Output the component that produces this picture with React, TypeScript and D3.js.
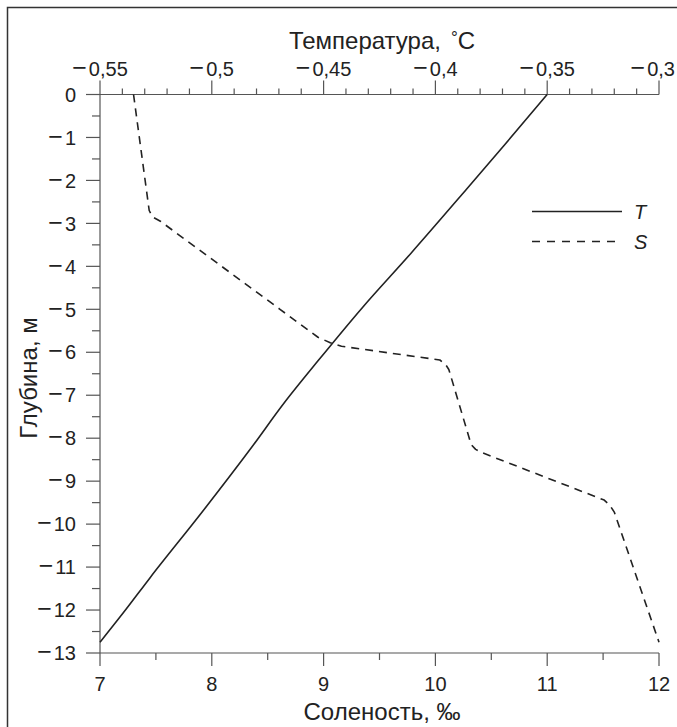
import React from "react";
import * as d3 from "d3";

// Temperature profile: depth (m), temperature (°C)
const tDepth = [0, -1.2, -2.2, -3.7, -4.95, -6.2, -7.17, -8.2, -9.73, -11.24, -12.06, -12.75];
const tValue = [-0.35, -0.3695, -0.386, -0.411, -0.4325, -0.4525, -0.4675, -0.482, -0.5045, -0.5275, -0.5395, -0.55];

// Salinity profile: depth (m), salinity (‰)
const sDepth = [0, -2.7, -2.85, -2.95, -5.0, -5.65, -5.78, -5.86, -6.18, -6.28, -6.4, -8.15, -8.26, -8.34, -9.44, -9.56, -9.72, -12.75];
const sValue = [7.3, 7.44, 7.47, 7.54, 8.61, 8.95, 9.06, 9.16, 10.04, 10.09, 10.12, 10.32, 10.36, 10.42, 11.51, 11.56, 11.6, 12.0];

const depthTicks = [0, -1, -2, -3, -4, -5, -6, -7, -8, -9, -10, -11, -12, -13];
const depthTickLabels = ["0", "−1", "−2", "−3", "−4", "−5", "−6", "−7", "−8", "−9", "−10", "−11", "−12", "−13"];
const salTicks = [7, 8, 9, 10, 11, 12];
const salTickLabels = ["7", "8", "9", "10", "11", "12"];
const tempTicks = [-0.55, -0.5, -0.45, -0.4, -0.35, -0.3];
const tempTickLabels = ["−0,55", "−0,5", "−0,45", "−0,4", "−0,35", "−0,3"];

const W = 677;
const H = 727;
const FONT = "'Liberation Sans', Arial, Helvetica, sans-serif";

function Label({ s }: { s: string }) {
  if (s.startsWith("−")) {
    return (
      <>
        <tspan fontSize={25}>−</tspan>
        <tspan dx={2}>{s.slice(1)}</tspan>
      </>
    );
  }
  return <>{s}</>;
}

export default function App() {
  const x = d3.scaleLinear().domain([7, 12]).range([100, 659]);
  const xt = d3.scaleLinear().domain([-0.55, -0.3]).range([100, 659]);
  const y = d3.scaleLinear().domain([0, -13]).range([94.5, 653]);

  const tPts: [number, number][] = tDepth.map((d, i) => [xt(tValue[i]), y(d)]);
  const sPts: [number, number][] = sDepth.map((d, i) => [x(sValue[i]), y(d)]);
  const smooth = d3.line<[number, number]>().x((p) => p[0]).y((p) => p[1]).curve(d3.curveMonotoneY);
  const straight = d3.line<[number, number]>().x((p) => p[0]).y((p) => p[1]);

  const minorDepth = d3.range(0, 26).map((i) => -0.5 - i).filter((v) => v > -13);
  const minorSal = [7.5, 8.5, 9.5, 10.5, 11.5];
  const minorTemp = d3.range(0, 26).map((i) => -0.55 + i * 0.01).filter((v, i) => i % 5 !== 0);

  const axisColor = "#555";
  const textColor = "#222";
  const tickFont = 20;

  return (
    <svg width={W} height={H} style={{ position: "absolute", left: 0, top: 0, background: "#fff" }} fontFamily={FONT}>
      <rect x={7.5} y={7.5} width={W} height={H} fill="#fff" stroke="#333" strokeWidth={1.5} />

      {/* left axis */}
      <line x1={x(7)} x2={x(7)} y1={y(0)} y2={y(-13)} stroke={axisColor} strokeWidth={1.2} />
      {depthTicks.map((d, i) => (
        <g key={"dt" + i}>
          <line x1={x(7) - 14} x2={x(7)} y1={y(d)} y2={y(d)} stroke={axisColor} strokeWidth={1.2} />
          <text x={76} y={y(d)} dy="0.36em" textAnchor="end" fontSize={tickFont} fill={textColor}><Label s={depthTickLabels[i]} /></text>
        </g>
      ))}
      {minorDepth.map((d, i) => (
        <line key={"dm" + i} x1={x(7) - 8} x2={x(7)} y1={y(d)} y2={y(d)} stroke={axisColor} strokeWidth={1.2} />
      ))}

      {/* bottom axis */}
      <line x1={x(7)} x2={x(12)} y1={y(-13)} y2={y(-13)} stroke={axisColor} strokeWidth={1.2} />
      {salTicks.map((s, i) => (
        <g key={"st" + i}>
          <line x1={x(s)} x2={x(s)} y1={y(-13)} y2={y(-13) + 13} stroke={axisColor} strokeWidth={1.2} />
          <text x={x(s)} y={684} dy="0.36em" textAnchor="middle" fontSize={tickFont} fill={textColor}>{salTickLabels[i]}</text>
        </g>
      ))}
      {minorSal.map((s, i) => (
        <line key={"sm" + i} x1={x(s)} x2={x(s)} y1={y(-13)} y2={y(-13) + 7} stroke={axisColor} strokeWidth={1.2} />
      ))}

      {/* top axis */}
      <line x1={xt(-0.55)} x2={xt(-0.3)} y1={y(0)} y2={y(0)} stroke={axisColor} strokeWidth={1.2} />
      {tempTicks.map((t, i) => {
        const last = i === tempTicks.length - 1;
        return (
          <g key={"tt" + i}>
            <line x1={xt(t)} x2={xt(t)} y1={y(0)} y2={y(0) - 14} stroke={axisColor} strokeWidth={1.2} />
            <text x={last ? W - 2 : xt(t)} y={69} dy="0.36em" textAnchor={last ? "end" : "middle"} fontSize={tickFont} fill={textColor}><Label s={tempTickLabels[i]} /></text>
          </g>
        );
      })}
      {minorTemp.map((t, i) => (
        <line key={"tm" + i} x1={xt(t)} x2={xt(t)} y1={y(0)} y2={y(0) - 6} stroke={axisColor} strokeWidth={1.2} />
      ))}

      {/* titles */}
      <text x={382} y={40} dy="0.36em" textAnchor="middle" fontSize={24} fill={textColor}>
        Температура,<tspan dx={10} fontSize={17} dy="-0.35em">°</tspan><tspan dy="0.25em">C</tspan>
      </text>
      <text x={382} y={711} dy="0.36em" textAnchor="middle" fontSize={24} fill={textColor}>Соленость, ‰</text>
      <text transform={`translate(28,${y(-6.6)}) rotate(-90)`} dy="0.36em" textAnchor="middle" fontSize={24} fill={textColor}>Глубина, м</text>

      {/* data */}
      <path d={smooth(tPts) || ""} fill="none" stroke="#222" strokeWidth={1.6} />
      <path d={straight(sPts) || ""} fill="none" stroke="#222" strokeWidth={1.6} strokeDasharray="8,6" strokeLinejoin="round" />

      {/* legend */}
      <line x1={532} x2={622} y1={211.5} y2={211.5} stroke="#222" strokeWidth={1.6} />
      <text x={634} y={211.5} dy="0.36em" fontSize={20} fontStyle="italic" fill={textColor}>T</text>
      <line x1={532} x2={617} y1={241.5} y2={241.5} stroke="#222" strokeWidth={1.6} strokeDasharray="8,7" />
      <text x={634} y={241.5} dy="0.36em" fontSize={20} fontStyle="italic" fill={textColor}>S</text>
    </svg>
  );
}
